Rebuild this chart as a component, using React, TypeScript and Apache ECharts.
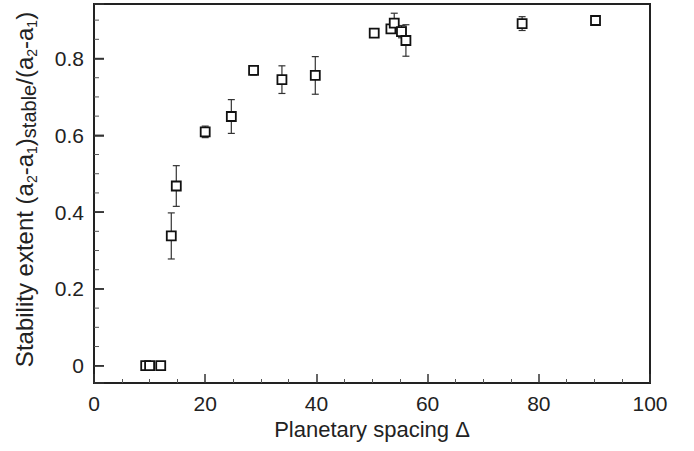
import React, { useEffect, useRef } from "react";
import * as echarts from "echarts";

const spacing = [9.3, 10.0, 12.0, 13.9, 14.8, 20.0, 24.7, 28.7, 33.8, 39.8, 50.4, 53.4, 54.0, 55.3, 56.1, 77.0, 90.2];
const extent = [0, 0, 0, 0.338, 0.468, 0.609, 0.649, 0.769, 0.745, 0.756, 0.866, 0.877, 0.892, 0.870, 0.847, 0.891, 0.899];
const errors = [0, 0, 0, 0.06, 0.053, 0.015, 0.044, 0.012, 0.036, 0.049, 0.005, 0.01, 0.026, 0.016, 0.041, 0.018, 0.012];

const yMajorTicks = [0, 0.2, 0.4, 0.6, 0.8];
const yMinorTicks = [0.05, 0.1, 0.15, 0.25, 0.3, 0.35, 0.45, 0.5, 0.55, 0.65, 0.7, 0.75, 0.85, 0.9];
const xTickLabels = ["0", "20", "40", "60", "80", "100"];

const Y_MIN = -0.045;
const Y_MAX = 0.942;

const FONT = "'Liberation Sans', Arial, Helvetica, sans-serif";

const tickSeries = (values: number[], len: number, color: string, width: number) => ({
  type: "custom",
  coordinateSystem: "cartesian2d",
  z: 5,
  data: values.map((v) => [0, v]),
  renderItem: (params: any, api: any) => {
    const p = api.coord([api.value(0), api.value(1)]);
    return {
      type: "group",
      children: [
        {
          type: "line",
          shape: { x1: p[0], y1: p[1], x2: p[0] + len, y2: p[1] },
          style: { stroke: color, lineWidth: width },
        },
      ],
    };
  },
});

export default function App() {
  const ref = useRef<HTMLDivElement>(null);
  useEffect(() => {
    if (!ref.current) return;
    const chart = echarts.init(ref.current, null, { renderer: "svg" });
    const points = spacing.map((x, i) => [x, extent[i]]);
    const bars = spacing.map((x, i) => [x, extent[i] - errors[i], extent[i] + errors[i]]);

    chart.setOption({
      animation: false,
      backgroundColor: "#fff",
      grid: {
        left: 94,
        right: 44,
        top: 4,
        bottom: 68,
        show: true,
        borderColor: "#222",
        borderWidth: 2,
        backgroundColor: "transparent",
      },
      xAxis: {
        type: "value",
        min: 0,
        max: 100,
        interval: 20,
        name: "Planetary spacing Δ",
        nameLocation: "middle",
        nameGap: 32,
        nameTextStyle: { fontFamily: FONT, fontSize: 22, color: "#222" },
        axisLine: { show: false, onZero: false },
        axisTick: { show: true, inside: true, length: 9, lineStyle: { color: "#333", width: 1.5 } },
        minorTick: { show: true, splitNumber: 4, length: 4, lineStyle: { color: "#555", width: 1 } },
        splitLine: { show: false },
        minorSplitLine: { show: false },
        axisLabel: {
          margin: 10,
          fontFamily: FONT,
          fontSize: 21,
          color: "#222",
          formatter: (v: number) => xTickLabels[Math.round(v / 20)] ?? String(v),
        },
      },
      yAxis: {
        type: "value",
        min: Y_MIN,
        max: Y_MAX,
        splitNumber: 5,
        name: "{sp|}Stability extent (a{s|2}-a{s|1}){st|stable}/(a{s|2}-a{s|1})",
        nameLocation: "middle",
        nameRotate: 90,
        nameGap: 55,
        nameTextStyle: {
          fontFamily: FONT,
          fontSize: 24,
          color: "#222",
          lineHeight: 30,
          rich: {
            sp: { width: 8 },
            s: { fontFamily: FONT, fontSize: 14, color: "#222", verticalAlign: "bottom", lineHeight: 14 },
            st: { fontFamily: FONT, fontSize: 20, color: "#222", verticalAlign: "bottom", lineHeight: 10 },
          },
        },
        axisLine: { show: false, onZero: false },
        axisTick: { show: true, inside: true, length: 10, lineStyle: { color: "#333", width: 1.5 } },
        splitLine: { show: false },
        axisLabel: {
          margin: 10,
          fontFamily: FONT,
          fontSize: 21,
          color: "#222",
          formatter: (v: number) => {
            const hit = yMajorTicks.find((t) => Math.abs(t - v) < 1e-6);
            if (hit === undefined) return "";
            return hit === 0 ? "0" : hit.toFixed(1);
          },
        },
      },
      series: [
        tickSeries(yMinorTicks, 5, "#555", 1),
        tickSeries(yMajorTicks, 10, "#333", 1.5),
        {
          type: "custom",
          coordinateSystem: "cartesian2d",
          data: bars,
          z: 2,
          renderItem: (params: any, api: any) => {
            const x = api.value(0);
            const lo = api.coord([x, api.value(1)]);
            const hi = api.coord([x, api.value(2)]);
            const w = 3.5;
            const style = { stroke: "#333", lineWidth: 1.2 };
            return {
              type: "group",
              children: [
                { type: "line", shape: { x1: lo[0], y1: lo[1], x2: hi[0], y2: hi[1] }, style },
                { type: "line", shape: { x1: lo[0] - w, y1: lo[1], x2: lo[0] + w, y2: lo[1] }, style },
                { type: "line", shape: { x1: hi[0] - w, y1: hi[1], x2: hi[0] + w, y2: hi[1] }, style },
              ],
            };
          },
        },
        {
          type: "scatter",
          data: points,
          z: 3,
          symbol: "rect",
          symbolSize: 9,
          itemStyle: { color: "#fff", borderColor: "#111", borderWidth: 1.8, opacity: 1 },
        },
      ],
    });
    return () => chart.dispose();
  }, []);
  return <div ref={ref} style={{ width: 694, height: 451, position: "absolute", left: 0, top: 0 }} />;
}
